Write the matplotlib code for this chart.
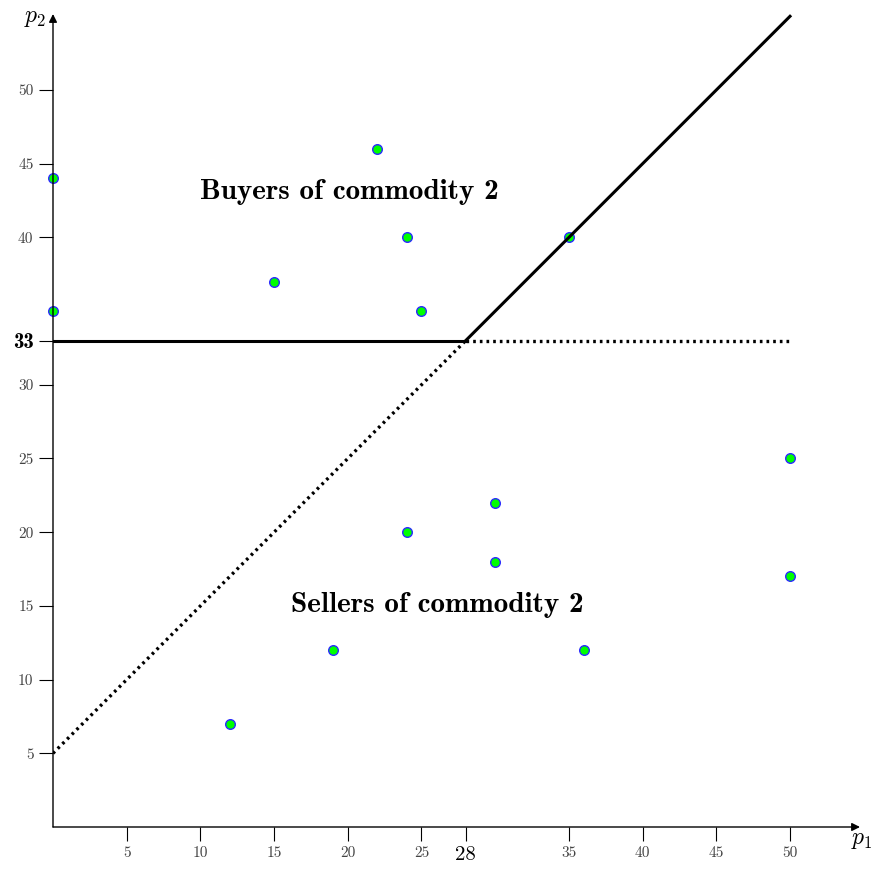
import matplotlib.pyplot as plt

plt.rcParams['mathtext.fontset'] = 'cm'
plt.rcParams['font.family'] = 'serif'
plt.rcParams['font.serif'] = ['cmr10', 'DejaVu Serif']

# data
px = [0, 0, 22, 24, 15, 25, 35, 24, 30, 30, 19, 12, 36, 50, 50]
py = [44, 35, 46, 40, 37, 35, 40, 20, 22, 18, 12, 7, 12, 25, 17]
xticks = [5, 10, 15, 20, 25, 35, 40, 45, 50]
yticks = [5, 10, 15, 20, 25, 30, 40, 45, 50]
kink_x, kink_y = 28, 33
intercept = 5
xmax, ymax = 50, 55

W, H = 875, 869
fig = plt.figure(figsize=(W / 100, H / 100), dpi=100)
x0, y0 = 53, 827
x1, y1 = 860, 14
ax = fig.add_axes([x0 / W, (H - y0) / H, (x1 - x0) / W, (y0 - y1) / H])
sx = (790 - 53) / 50
ax.set_xlim(0, (x1 - x0) / sx)
ax.set_ylim(0, (y0 - y1) / sx)

for s in ax.spines.values():
    s.set_visible(False)

# axes arrows
ax.annotate('', xy=(1, 0), xytext=(0, 0), xycoords='axes fraction',
            arrowprops=dict(arrowstyle='-|>', color='black', lw=1.0,
                            mutation_scale=12, shrinkA=0, shrinkB=0))
ax.annotate('', xy=(0, 1), xytext=(0, 0), xycoords='axes fraction',
            arrowprops=dict(arrowstyle='-|>', color='black', lw=1.0,
                            mutation_scale=12, shrinkA=0, shrinkB=0))

# ticks
ax.tick_params(direction='out', length=10, width=0.8, labelsize=11,
               colors='black', pad=4)
ax.set_xticks(xticks + [kink_x])
ax.set_xticklabels([str(t) for t in xticks] + [str(kink_x)])
ax.set_yticks(yticks + [kink_y])
ax.set_yticklabels([str(t) for t in yticks] + [str(kink_y)])
ax.get_xticklabels()[-1].set_fontsize(15)
lab33 = ax.get_yticklabels()[-1]
lab33.set_fontsize(15)
lab33.set_family('cmb10')
for lab in ax.get_xticklabels() + ax.get_yticklabels():
    lab.set_color('#444444')
ax.get_xticklabels()[-1].set_color('black')
lab33.set_color('black')

# lines
ax.plot([0, kink_x], [kink_y, kink_y], color='black', lw=2.2, zorder=3)
ax.plot([kink_x, xmax], [kink_y, ymax], color='black', lw=2.2, zorder=3)
ax.plot([0, kink_x], [intercept, kink_y], color='black', lw=2.4,
        ls=(0, (0.8, 1.2)), zorder=3)
ax.plot([kink_x, xmax], [kink_y, kink_y], color='black', lw=2.4,
        ls=(0, (0.8, 1.2)), zorder=3)

# points
ax.scatter(px, py, s=48, c='#00ff00', edgecolors='#2a2aff', linewidths=1.0,
           zorder=2, clip_on=False)

# labels
ax.text(20.1, 43.1, 'Buyers of commodity 2', family='cmb10', fontsize=21,
        ha='center', va='center')
ax.text(26.05, 15.06, 'Sellers of commodity 2', family='cmb10', fontsize=21,
        ha='center', va='center')
fig.text(35 / W, 1 - 18 / H, r'$p_2$', fontsize=17, ha='center', va='center')
fig.text(862 / W, 1 - 840 / H, r'$p_1$', fontsize=17, ha='center', va='center')

fig.savefig('out.png', dpi=100)
